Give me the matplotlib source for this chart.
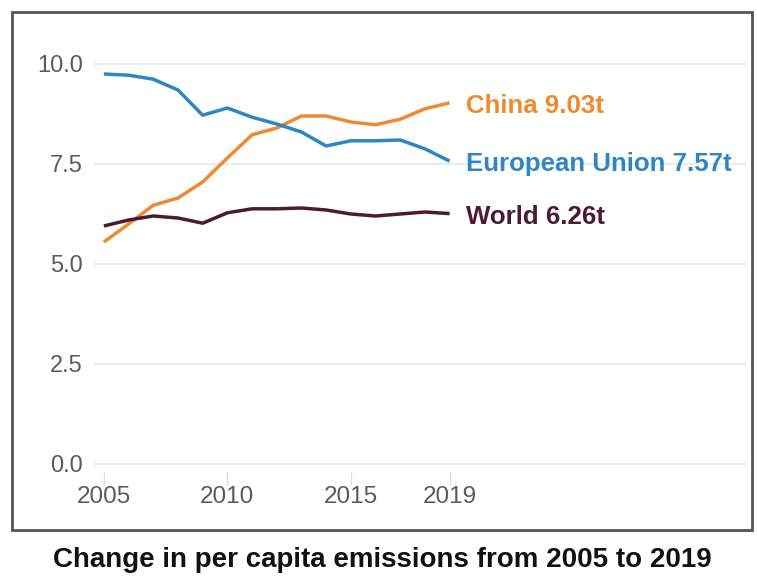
import matplotlib.pyplot as plt
from matplotlib.patches import Rectangle

plt.rcParams['font.family'] = ['Liberation Sans', 'DejaVu Sans']

years = list(range(2005, 2020))
china = [5.55, 6.0, 6.47, 6.65, 7.05, 7.65, 8.23, 8.4, 8.7, 8.7, 8.55, 8.48, 8.62, 8.88, 9.03]
eu = [9.75, 9.72, 9.62, 9.35, 8.72, 8.9, 8.67, 8.5, 8.3, 7.95, 8.08, 8.08, 8.1, 7.88, 7.57]
world = [5.95, 6.1, 6.2, 6.15, 6.02, 6.28, 6.38, 6.38, 6.4, 6.35, 6.25, 6.2, 6.25, 6.3, 6.26]

series = [
    ("China", china, "#ef8a30"),
    ("European Union", eu, "#2f86c4"),
    ("World", world, "#4e1a30"),
]
x_ticks = [2005, 2010, 2015, 2019]
y_ticks = [0.0, 2.5, 5.0, 7.5, 10.0]

W, H = 757, 576
fig = plt.figure(figsize=(W / 100, H / 100), dpi=100)

# outer frame
fig.patches.append(Rectangle((12 / W, 1 - 530 / H), 740 / W, 518 / H,
                             transform=fig.transFigure, fill=False,
                             edgecolor="#555555", linewidth=2))

ax = fig.add_axes([94 / W, 1 - 472 / H, 652 / W, 424 / H])
ax.set_xlim(2004.6, 2031)
ax.set_ylim(-0.2, 10.4)

for name, vals, col in series:
    ax.plot(years, vals, color=col, linewidth=2.5, solid_capstyle="butt")
    ax.text(years[-1] + 0.65, vals[-1] - 0.08, f"{name} {vals[-1]:.2f}t", color=col,
            fontsize=18.6, fontweight="bold", va="center", ha="left")

for s in ax.spines.values():
    s.set_visible(False)
ax.set_yticks(y_ticks)
ax.set_yticklabels([f"{v:.1f}" for v in y_ticks])
ax.set_xticks(x_ticks)
ax.grid(axis="y", color="#ececec", linewidth=1.4)
ax.set_axisbelow(True)
ax.tick_params(axis="y", length=0, pad=8, labelsize=17, labelcolor="#5a5a5a")
ax.tick_params(axis="x", length=9, width=1, color="#dddddd", pad=1,
               labelsize=17.5, labelcolor="#5a5a5a")

fig.text(382 / W, 1 - 560 / H, "Change in per capita emissions from 2005 to 2019",
         ha="center", va="center", fontsize=20, fontweight="bold", color="#111111")

fig.savefig("out.png", dpi=100)
